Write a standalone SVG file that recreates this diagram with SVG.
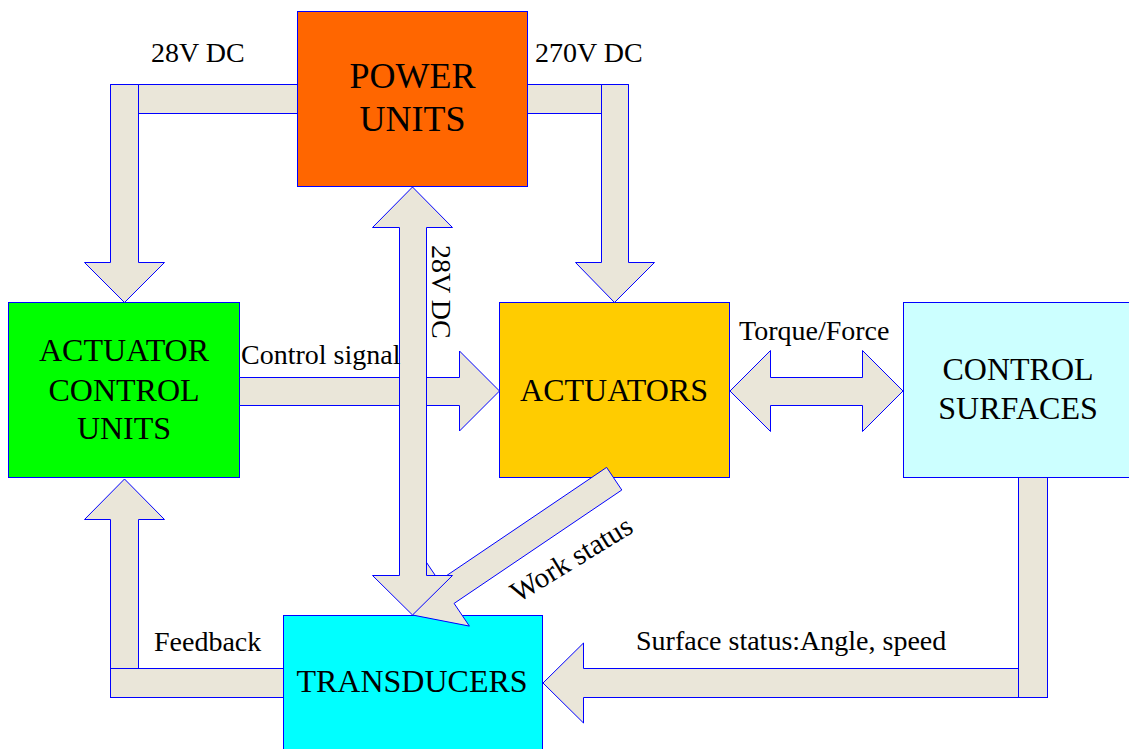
<svg xmlns="http://www.w3.org/2000/svg" width="1129" height="749" viewBox="0 0 1129 749">
<style>
.box{stroke:#0000FF;stroke-width:1}
.arr{fill:#EAE6D9;stroke:#0000FF;stroke-width:1}
</style>
<rect x="0" y="0" width="1129" height="749" fill="#FFFFFF"/>
<g id="power-units">
<rect class="box" x="297.5" y="11.5" width="230" height="175" fill="#FF6600"/>
<text font-family="Liberation Serif" font-size="36" text-anchor="middle" x="412.5" y="88">POWER</text>
<text font-family="Liberation Serif" font-size="36" text-anchor="middle" x="412.5" y="131">UNITS</text>
</g>
<g id="actuator-control-units">
<rect class="box" x="8.5" y="302.5" width="231" height="175" fill="#00FF00"/>
<text font-family="Liberation Serif" font-size="32" text-anchor="middle" x="124" y="361">ACTUATOR</text>
<text font-family="Liberation Serif" font-size="32" text-anchor="middle" x="124" y="401">CONTROL</text>
<text font-family="Liberation Serif" font-size="32" text-anchor="middle" x="124" y="439">UNITS</text>
</g>
<g id="actuators">
<rect class="box" x="499.5" y="302.5" width="230" height="175" fill="#FFCC00"/>
<text font-family="Liberation Serif" font-size="32" text-anchor="middle" x="614" y="401">ACTUATORS</text>
</g>
<g id="control-surfaces">
<rect class="box" x="903.5" y="302.5" width="240" height="175" fill="#CCFFFF"/>
<text font-family="Liberation Serif" font-size="32" text-anchor="middle" x="1018" y="380">CONTROL</text>
<text font-family="Liberation Serif" font-size="32" text-anchor="middle" x="1018" y="419">SURFACES</text>
</g>
<g id="transducers">
<rect class="box" x="283.5" y="615.5" width="259" height="150" fill="#00FFFF"/>
<text font-family="Liberation Serif" font-size="32" text-anchor="middle" x="412" y="692">TRANSDUCERS</text>
</g>
<g id="connectors">
<rect class="arr" x="110.5" y="84.5" width="187" height="29"/>
<polygon class="arr" points="110.5,84.5 138.5,84.5 138.5,262.5 164.5,262.5 124.5,302.5 84.5,262.5 110.5,262.5"/>
<rect class="arr" x="527.5" y="84.5" width="101" height="29"/>
<polygon class="arr" points="601.5,84.5 628.5,84.5 628.5,262.5 654.5,262.5 614.5,302.5 575.5,262.5 601.5,262.5"/>
<polygon class="arr" points="239.5,377.5 459.5,377.5 459.5,351 499.5,391 459.5,431 459.5,405.5 239.5,405.5"/>
<polygon class="arr" points="606.6,467.4 621.8,490 454.1,603.4 469.4,626.1 412.5,615 423.6,558.1 438.9,580.8"/>
<polygon class="arr" points="412.5,187 452.5,227.5 426.5,227.5 426.5,575.5 452.5,575.5 412.5,615 372.5,575.5 399.5,575.5 399.5,227.5 372.5,227.5"/>
<polygon class="arr" points="730,391 770.5,350.5 770.5,377.5 862.5,377.5 862.5,350.5 903,391 862.5,431.5 862.5,405.5 770.5,405.5 770.5,431.5"/>
<polygon class="arr" points="110.5,668.5 110.5,519.5 84.5,519.5 124.5,479 164.5,519.5 138.5,519.5 138.5,668.5"/>
<rect class="arr" x="110.5" y="668.5" width="173" height="29"/>
<polygon class="arr" points="1018.5,668.5 583.5,668.5 583.5,643 543,683 583.5,723 583.5,697.5 1018.5,697.5"/>
<rect class="arr" x="1018.5" y="477.5" width="29" height="220"/>
</g>
<g id="labels">
<text font-family="Liberation Serif" font-size="28" x="151" y="62">28V DC</text>
<text font-family="Liberation Serif" font-size="28" x="535" y="62">270V DC</text>
<text font-family="Liberation Serif" font-size="28" transform="translate(432,245) rotate(90)">28V DC</text>
<text font-family="Liberation Serif" font-size="28" x="241" y="364">Control signal</text>
<text font-family="Liberation Serif" font-size="28" x="739" y="340">Torque/Force</text>
<text font-family="Liberation Serif" font-size="29" transform="translate(518,603) rotate(-31.5)">Work status</text>
<text font-family="Liberation Serif" font-size="28" x="154" y="651">Feedback</text>
<text font-family="Liberation Serif" font-size="28" x="636" y="650">Surface status:Angle, speed</text>
</g>
</svg>
